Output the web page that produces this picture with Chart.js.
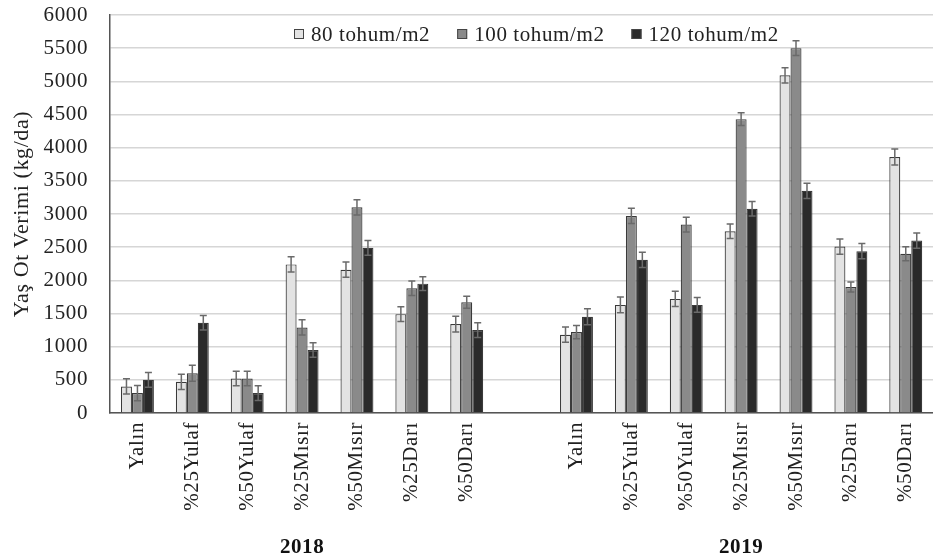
<!DOCTYPE html>
<html>
<head>
<meta charset="utf-8">
<script src="https://cdn.jsdelivr.net/npm/chart.js@4/dist/chart.umd.min.js"></script>
<style>
  html, body { margin: 0; padding: 0; background: #fff; overflow: hidden; width: 933px; height: 560px; }
  #wrap { width: 940px; height: 560px; }
</style>
</head>
<body>
<div id="wrap"><canvas id="c" width="940" height="560"></canvas></div>
<script>
// Categories: seven mixtures per year, with an empty slot separating the years
const categories = ['Yalın', '%25Yulaf', '%50Yulaf', '%25Mısır', '%50Mısır', '%25Darı', '%50Darı', '',
                    'Yalın', '%25Yulaf', '%50Yulaf', '%25Mısır', '%50Mısır', '%25Darı', '%50Darı'];
const yearGroups = [
  { label: '2018', first: 0, last: 6 },
  { label: '2019', first: 8, last: 14 }
];
const seriesNames = ['80 tohum/m2', '100 tohum/m2', '120 tohum/m2'];

// Fresh herbage yield (kg/da)
const yield80  = [400, 470, 520, 2240, 2160, 1490, 1340, null, 1180, 1630, 1720, 2740, 5090, 2510, 3860];
const yield100 = [300, 600, 520, 1290, 3100, 1880, 1670, null, 1220, 2970, 2840, 4430, 5500, 1900, 2400];
const yield120 = [500, 1360, 300, 950, 2490, 1950, 1250, null, 1450, 2310, 1630, 3080, 3350, 2440, 2600];

// Standard errors
const err80  = [115, 115, 110, 115, 115, 110, 120, null, 115, 120, 115, 110, 115, 115, 120];
const err100 = [115, 120, 110, 115, 115, 110, 90, null, 100, 115, 110, 95, 110, 75, 105];
const err120 = [110, 110, 110, 110, 110, 105, 110, null, 120, 115, 110, 110, 115, 115, 115];

const yMax = 6000;
const yStep = 500;

const serif = '"Liberation Serif", "Times New Roman", serif';
const fills = ['#e3e3e3', '#8a8a8a', '#2a2a2a'];

// Slightly open letter spacing for all canvas text
const textSpacing = {
  id: 'textSpacing',
  beforeDraw(chart) { chart.ctx.letterSpacing = '0.6px'; }
};

// Error bars drawn through the value scale
const errorBars = {
  id: 'errorBars',
  afterDatasetsDraw(chart) {
    const ctx = chart.ctx;
    const yScale = chart.scales.y;
    ctx.save();
    ctx.strokeStyle = '#6a6a6a';
    ctx.lineWidth = 1.5;
    chart.data.datasets.forEach((ds, i) => {
      const meta = chart.getDatasetMeta(i);
      meta.data.forEach((bar, j) => {
        const v = ds.data[j];
        const e = ds.errors[j];
        if (v == null || e == null) return;
        const x = bar.x;
        const yHi = yScale.getPixelForValue(v + e);
        const yLo = yScale.getPixelForValue(v - e);
        const cap = 3.5;
        ctx.beginPath();
        ctx.moveTo(x, yHi); ctx.lineTo(x, yLo);
        ctx.moveTo(x - cap, yHi); ctx.lineTo(x + cap, yHi);
        ctx.moveTo(x - cap, yLo); ctx.lineTo(x + cap, yLo);
        ctx.stroke();
      });
    });
    ctx.restore();
  }
};

// Legend row inside the plot, between the top two gridlines
const innerLegend = {
  id: 'innerLegend',
  afterDraw(chart) {
    const ctx = chart.ctx;
    ctx.save();
    ctx.font = '21px ' + serif;
    ctx.textBaseline = 'middle';
    ctx.textAlign = 'left';
    let x = chart.chartArea.left + 184;
    const y = chart.chartArea.top + 19;
    chart.data.datasets.forEach((ds) => {
      ctx.fillStyle = ds.backgroundColor;
      ctx.fillRect(x, y - 5, 10, 10);
      ctx.strokeStyle = '#444';
      ctx.lineWidth = 1;
      ctx.strokeRect(x + 0.5, y - 4.5, 9, 9);
      x += 17;
      ctx.fillStyle = '#222';
      ctx.fillText(ds.label, x, y + 1);
      x += ctx.measureText(ds.label).width + 27;
    });
    ctx.restore();
  }
};

// Year captions centred under each group of categories
const yearCaptions = {
  id: 'yearCaptions',
  afterDraw(chart) {
    const ctx = chart.ctx;
    const xScale = chart.scales.x;
    ctx.save();
    ctx.font = 'bold 21px ' + serif;
    ctx.fillStyle = '#111';
    ctx.textAlign = 'center';
    ctx.textBaseline = 'middle';
    yearGroups.forEach((g) => {
      const cx = (xScale.getPixelForValue(g.first) + xScale.getPixelForValue(g.last)) / 2;
      ctx.fillText(g.label, cx, 548);
    });
    ctx.restore();
  }
};

const values = [yield80, yield100, yield120];
const errors = [err80, err100, err120];

new Chart(document.getElementById('c'), {
  type: 'bar',
  data: {
    labels: categories,
    datasets: seriesNames.map((name, i) => ({
      label: name,
      data: values[i],
      errors: errors[i],
      backgroundColor: fills[i],
      borderColor: '#3a3a3a',
      borderWidth: 1.2,
      barPercentage: 1.0,
      categoryPercentage: 0.6
    }))
  },
  options: {
    responsive: false,
    animation: false,
    devicePixelRatio: 1,
    layout: { padding: { top: 15, right: 1, left: 0, bottom: 0 } },
    plugins: {
      legend: { display: false },
      tooltip: { enabled: false }
    },
    scales: {
      x: {
        grid: { display: false, drawTicks: false },
        border: { display: true, color: '#555', width: 1.5 },
        ticks: {
          autoSkip: false,
          maxRotation: 90,
          minRotation: 90,
          padding: 9,
          color: '#222',
          font: { family: serif, size: 21 }
        },
        afterFit(scale) { scale.height = 147; }
      },
      y: {
        min: 0,
        max: yMax,
        grid: { color: '#d6d6d6', lineWidth: 1.5, drawTicks: true, tickLength: 22, tickColor: 'rgba(0,0,0,0)' },
        border: { display: true, color: '#555', width: 1.5 },
        ticks: {
          stepSize: yStep,
          padding: 0,
          color: '#222',
          font: { family: serif, size: 21 },
          callback: (v) => String(v)
        },
        title: {
          display: true,
          text: 'Yaş Ot Verimi (kg/da)',
          color: '#222',
          font: { family: serif, size: 22 },
          padding: { top: 9, bottom: 0 }
        },
        afterFit(scale) { scale.width = 110; }
      }
    }
  },
  plugins: [textSpacing, errorBars, innerLegend, yearCaptions]
});
</script>
</body>
</html>
